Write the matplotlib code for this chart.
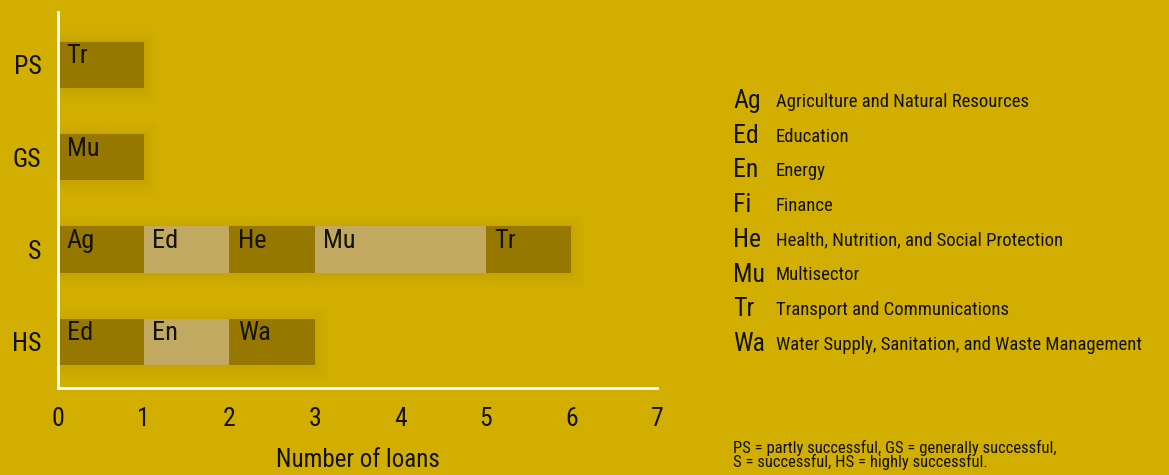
import matplotlib
matplotlib.use("Agg")
import matplotlib.pyplot as plt
from matplotlib import font_manager

# ---- data ----
ratings = ["PS", "GS", "S", "HS"]
ps_sectors = ["Tr"]
ps_counts = [1]
gs_sectors = ["Mu"]
gs_counts = [1]
s_sectors = ["Ag", "Ed", "He", "Mu", "Tr"]
s_counts = [1, 1, 1, 2, 1]
hs_sectors = ["Ed", "En", "Wa"]
hs_counts = [1, 1, 1]
xticks = [0, 1, 2, 3, 4, 5, 6, 7]
legend_abbr = ["Ag", "Ed", "En", "Fi", "He", "Mu", "Tr", "Wa"]
legend_names = ["Agriculture and Natural Resources", "Education", "Energy", "Finance",
                "Health, Nutrition, and Social Protection", "Multisector",
                "Transport and Communications",
                "Water Supply, Sanitation, and Waste Management"]
footnote = "PS = partly successful, GS = generally successful,\nS = successful, HS = highly successful."
xlabel = "Number of loans"

# ---- style ----
names = {f.name for f in font_manager.fontManager.ttflist}
family = "Liberation Sans"
for cand in ["Roboto Condensed", "Archivo Narrow", "PT Sans Narrow",
             "Fira Sans Condensed", "Liberation Sans Narrow"]:
    if cand in names:
        family = cand
        break
plt.rcParams["font.family"] = [family, "DejaVu Sans"]

BG = "#D1AE00"
DARK = "#967800"
LIGHT = "#C2A962"
TXT = "#141200"

fig = plt.figure(figsize=(11.69, 4.75), dpi=100, facecolor=BG)
ax = fig.add_axes([58 / 1169, 87 / 475, (657 - 58) / 1169, 376 / 475])
ax.set_facecolor(BG)

rows = [(ps_sectors, ps_counts), (gs_sectors, gs_counts),
        (s_sectors, s_counts), (hs_sectors, hs_counts)]
ypos = [3, 2, 1, 0]
h = 0.5
for (secs, cnts), y in zip(rows, ypos):
    left = 0
    total = sum(cnts)
    # soft shadow
    for lw, a in [(18, 0.010), (13, 0.013), (8, 0.016), (4, 0.02)]:
        ax.barh(y - 0.02, total, left=0.0, height=h, color="none",
                edgecolor=(0.25, 0.18, 0, a), linewidth=lw, zorder=1)
    for i, (s, c) in enumerate(zip(secs, cnts)):
        col = DARK if i % 2 == 0 else LIGHT
        ax.barh(y, c, left=left, height=h, color=col, linewidth=0, zorder=2)
        ax.text(left + 0.1, y + h / 2 - 0.03, s, ha="left", va="top",
                fontsize=19, color=TXT, zorder=3)
        left += c

ax.set_xlim(0, 7)
ax.set_ylim(-0.5, 3.57)
ax.set_xticks(xticks)
ax.set_xticklabels([str(t) for t in xticks])
ax.set_yticks(ypos)
ax.set_yticklabels(ratings)
ax.tick_params(axis="both", length=0, labelsize=18.5, colors=TXT)
ax.tick_params(axis="x", pad=14)
ax.tick_params(axis="y", pad=12)
for sp in ["top", "right"]:
    ax.spines[sp].set_visible(False)
for sp in ["left", "bottom"]:
    ax.spines[sp].set_color("white")
    ax.spines[sp].set_linewidth(2)
ax.set_xlabel(xlabel, fontsize=18, color=TXT, labelpad=12)

# legend
y0 = 101
for i, (a, n) in enumerate(zip(legend_abbr, legend_names)):
    yy = 1 - (y0 + i * 34.7) / 475
    fig.text(733 / 1169, yy, a, fontsize=18.5, color=TXT, va="center", ha="left")
    fig.text(776 / 1169, yy - 0.002, n, fontsize=13.5, color=TXT, va="center", ha="left")

fig.text(733 / 1169, 1 - 455 / 475, footnote, fontsize=12, color=TXT,
         va="center", ha="left", linespacing=0.9)

fig.savefig("out.png", dpi=100, facecolor=BG)
